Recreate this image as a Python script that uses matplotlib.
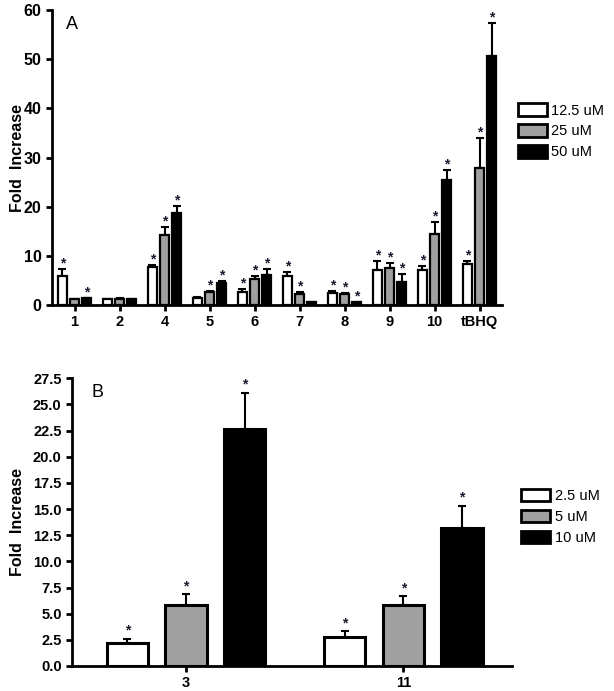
import matplotlib
matplotlib.use("Agg")
import matplotlib.pyplot as plt
from matplotlib.patches import Patch
import numpy as np

plt.rcParams['font.family'] = ['Liberation Sans', 'DejaVu Sans']

# Panel A data
groups_a = ['1', '2', '4', '5', '6', '7', '8', '9', '10', 'tBHQ']
labels_a = ['12.5 uM', '25 uM', '50 uM']
vals_a = [
    [6.0, 1.2, 7.7, 1.5, 2.7, 5.8, 2.5, 7.1, 7.1, 8.3],      # 12.5 uM
    [1.2, 1.3, 14.2, 2.7, 5.3, 2.2, 2.2, 7.6, 14.4, 27.9],   # 25 uM
    [1.4, 1.2, 18.8, 4.5, 6.2, 0.7, 0.6, 4.7, 25.4, 50.7],   # 50 uM
]
errs_a = [
    [1.3, 0.1, 0.5, 0.1, 0.5, 0.9, 0.3, 1.8, 0.8, 0.7],
    [0.1, 0.1, 1.7, 0.2, 0.5, 0.4, 0.3, 0.9, 2.5, 6.1],
    [0.1, 0.1, 1.3, 0.4, 1.2, 0.0, 0.0, 1.6, 2.1, 6.7],
]
stars_a = [
    [1, 0, 1, 0, 1, 1, 1, 1, 1, 1],
    [0, 0, 1, 1, 1, 1, 1, 1, 1, 1],
    [1, 0, 1, 1, 1, 0, 1, 1, 1, 1],
]

# Panel B data
groups_b = ['3', '11']
labels_b = ['2.5 uM', '5 uM', '10 uM']
vals_b = [
    [2.15, 2.8],
    [5.8, 5.8],
    [22.65, 13.15],
]
errs_b = [
    [0.45, 0.5],
    [1.05, 0.85],
    [3.45, 2.15],
]
stars_b = [[1, 1], [1, 1], [1, 1]]

colors = ['white', '#a0a0a0', 'black']


def draw_panel(ax, groups, vals, errs, stars, offset, width, lw, star_pt):
    x = np.arange(len(groups))
    for i in range(3):
        xs = x + (i - 1) * offset
        ax.bar(xs, vals[i], width=width, color=colors[i], edgecolor='black',
               linewidth=lw, zorder=2)
        ax.errorbar(xs, vals[i], yerr=[np.zeros(len(groups)), errs[i]],
                    fmt='none', ecolor='black', elinewidth=1.5, capsize=3,
                    capthick=1.5, zorder=1)
        for j in range(len(groups)):
            if stars[i][j]:
                ax.annotate('*', (xs[j], vals[i][j] + errs[i][j]),
                            xytext=(0, star_pt), textcoords='offset points',
                            ha='center', va='center', fontsize=10,
                            fontweight='bold', color='#1a1a2e')
    ax.set_xticks(x)
    ax.set_xticklabels(groups, fontweight='bold', fontsize=10.5)
    ax.spines['top'].set_visible(False)
    ax.spines['right'].set_visible(False)
    ax.spines['left'].set_linewidth(2)
    ax.spines['bottom'].set_linewidth(2)
    ax.tick_params(direction='out', width=2, length=4)
    ax.set_ylabel('Fold  Increase', fontweight='bold', fontsize=11.5)


def add_legend(fig, labels, anchor):
    handles = [Patch(facecolor=c, edgecolor='black', linewidth=2)
               for c in colors]
    fig.legend(handles, labels, loc='center left', bbox_to_anchor=anchor,
               frameon=False, fontsize=10.5, handlelength=2.0,
               handleheight=0.95, handletextpad=0.3, labelspacing=0.45,
               borderaxespad=0, borderpad=0)


fig = plt.figure(figsize=(6.14, 6.91), dpi=100)

ax1 = fig.add_axes([0.0847, 0.5586, 0.733, 0.4269])
draw_panel(ax1, groups_a, vals_a, errs_a, stars_a, 0.27, 0.2, 1.6, 4)
ax1.set_xlim(-0.5, 9.5)
ax1.set_ylim(0, 60)
ax1.set_yticks(range(0, 61, 10))
for t in ax1.get_yticklabels():
    t.set_fontweight('bold')
    t.set_fontsize(11.5)
ax1.yaxis.set_label_coords(-0.06, 0.5)
ax1.text(0.03, 0.95, 'A', transform=ax1.transAxes, fontsize=13,
         ha='left', va='center')
add_legend(fig, labels_a, (0.843, 0.81))

ax2 = fig.add_axes([0.1173, 0.0362, 0.7166, 0.4163])
draw_panel(ax2, groups_b, vals_b, errs_b, stars_b, 0.27, 0.19, 2.2, 6)
ax2.set_xlim(-0.525, 1.5)
ax2.set_ylim(0, 27.5)
ticks_b = np.arange(0, 27.6, 2.5)
ax2.set_yticks(ticks_b)
ax2.set_yticklabels([f'{v:.1f}' for v in ticks_b],
                    fontweight='bold', fontsize=10.5)
ax2.yaxis.set_label_coords(-0.107, 0.5)
ax2.text(0.045, 0.95, 'B', transform=ax2.transAxes, fontsize=13,
         ha='left', va='center')
add_legend(fig, labels_b, (0.849, 0.252))

fig.savefig('out.png', dpi=100)
